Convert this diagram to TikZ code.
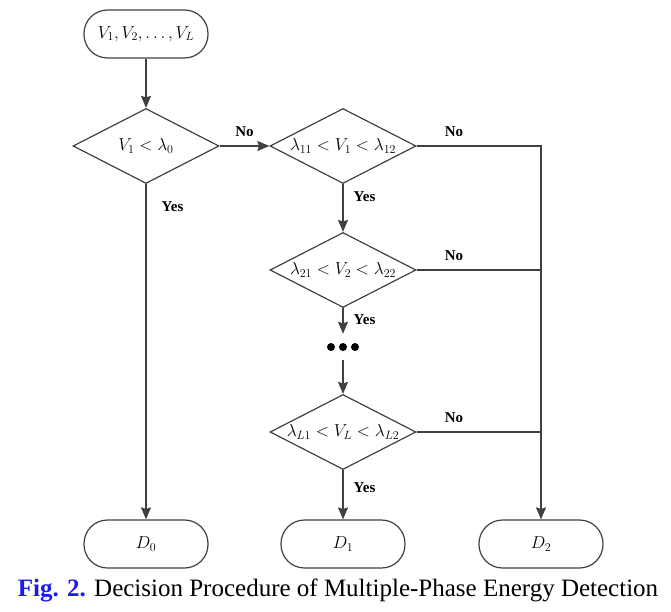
\documentclass[tikz,border=0pt]{standalone}
\usepackage{fontspec}
\setmainfont{Liberation Serif}
\usepackage{xcolor}
\usepackage{amsmath}
\usetikzlibrary{arrows.meta,shapes.geometric}

\definecolor{linegray}{HTML}{404040}
\definecolor{figblue}{HTML}{1A1AF0}

\tikzset{
    term/.style={draw=linegray, line width=1.2pt, rounded corners=23.5pt, minimum width=124pt, minimum height=48pt, inner sep=0pt, font=\fontsize{17}{17}\selectfont},
    test/.style={draw=linegray, line width=1.2pt, diamond, minimum width=146pt, minimum height=75pt, inner sep=0pt, font=\fontsize{17}{17}\selectfont},
    flow/.style={draw=linegray, line width=1.4pt, -{Stealth[length=12pt,width=10pt,inset=1.5pt]}},
    wire/.style={draw=linegray, line width=1.4pt},
    ans/.style={font=\fontsize{15}{15}\selectfont\bfseries, inner sep=0pt},
}

\begin{document}
\begin{tikzpicture}[x=1pt, y=-1pt]
        \useasboundingbox (0,0) rectangle (671,612);

        % boxes
        \node[term] (start) at (146,34) {\makebox[0pt]{$V_1,V_2,\ldots,V_L$}};
        \node[test] (t0) at (146,146) {\makebox[0pt]{$V_1<\lambda_0$}};
        \node[test] (t1) at (343,146) {\makebox[0pt]{$\lambda_{11}<V_1<\lambda_{12}$}};
        \node[test] (t2) at (343,270) {\makebox[0pt]{$\lambda_{21}<V_2<\lambda_{22}$}};
        \node[minimum width=34pt, minimum height=26pt, inner sep=0pt] (dots) at (343,347) {};
        \node[test] (tL) at (343,432) {\makebox[0pt]{$\lambda_{L1}<V_L<\lambda_{L2}$}};
        \node[term] (D0) at (146,544) {$D_0$};
        \node[term] (D1) at (343,544) {$D_1$};
        \node[term] (D2) at (541,544) {$D_2$};

        \foreach \dx in {-12,0,12}
            \fill (343+\dx,347) circle (4pt);

        % connectors
        \draw[flow] (start) -- (t0);
        \draw[flow] (t0) -- node[ans, above=9pt] {No} (t1);
        \draw[flow] (t0) -- node[ans, pos=0, anchor=north west, xshift=15pt, yshift=-17pt] {Yes} (D0);
        \draw[flow] (t1) -- node[ans, pos=0, anchor=north west, xshift=10pt, yshift=-7pt] {Yes} (t2);
        \draw[flow] (t2) -- node[ans, pos=0, anchor=north west, xshift=10pt, yshift=-6pt] {Yes} (dots);
        \draw[flow] (dots) -- (tL);
        \draw[flow] (tL) -- node[ans, pos=0, anchor=north west, xshift=10pt, yshift=-12pt] {Yes} (D1);

        \draw[flow] (t1.east) -- node[ans, pos=0.3, above=9pt] {No} (D2.north |- t1.east) -- (D2);
        \draw[wire] (t2.east) -- node[ans, pos=0.3, above=9pt] {No} (D2.north |- t2.east);
        \draw[wire] (tL.east) -- node[ans, pos=0.3, above=9pt] {No} (D2.north |- tL.east);

        % caption
        \node[font=\fontsize{25}{25}\selectfont] (caption) at (338,590) {\textcolor{figblue}{\bfseries Fig. 2.} Decision Procedure of Multiple-Phase Energy Detection};

      \end{tikzpicture}
\end{document}
